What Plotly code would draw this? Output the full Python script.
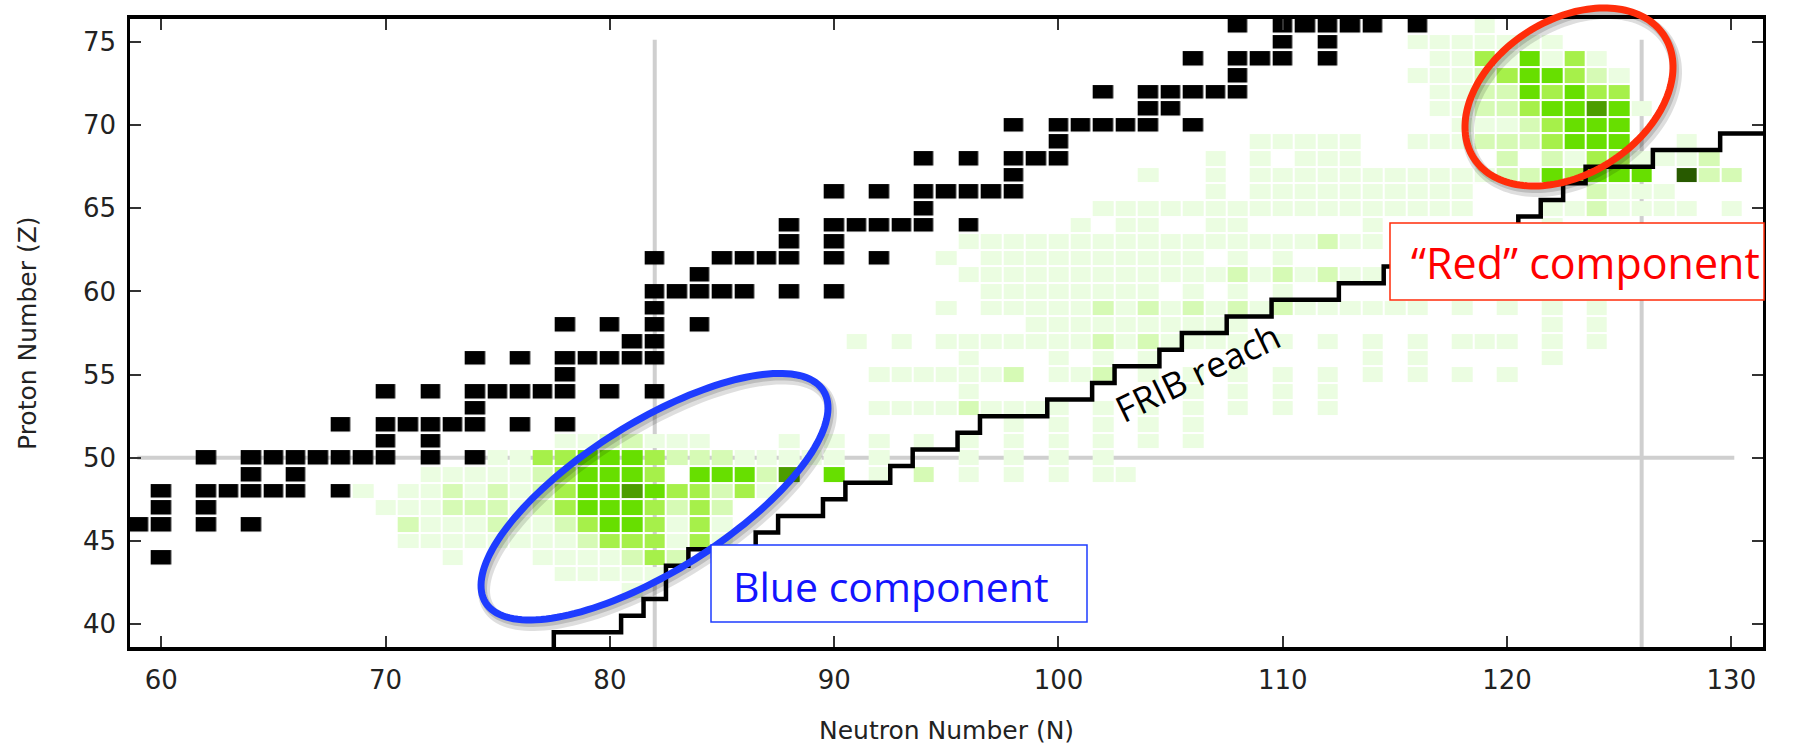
import numpy as np
import plotly.graph_objects as go

# ---------------- figure geometry ----------------
W, H = 1800, 753
ML, MR, MT, MB = 130, 37, 19, 106
PW, PH = W - ML - MR, H - MT - MB
X_RANGE = [58.605, 131.41]
Y_RANGE = [38.62, 76.383]

# ---------------- data ----------------
N_values = list(range(59, 132))
Z_values = list(range(39, 77))

# stable nuclei (black squares): Z and list of N
stable_Z = [44, 46, 47, 48, 49, 50, 51, 52, 53, 54, 55, 56, 57, 58, 59, 60, 61, 62, 63,
            64, 65, 66, 67, 68, 69, 70, 71, 72, 73, 74, 75, 76]
stable_N = [
    [60], [59, 60, 62, 64], [60, 62], [60, 62, 63, 64, 65, 66, 68], [64, 66],
    [62, 64, 65, 66, 67, 68, 69, 70, 72, 74], [70, 72], [68, 70, 71, 72, 73, 74, 76, 78],
    [74], [70, 72, 74, 75, 76, 77, 78, 80, 82], [78], [74, 76, 78, 79, 80, 81, 82],
    [81, 82], [78, 80, 82, 84], [82], [82, 83, 84, 85, 86, 88, 90], [84],
    [82, 85, 86, 87, 88, 90, 92], [88, 90], [88, 90, 91, 92, 93, 94, 96], [94],
    [90, 92, 94, 95, 96, 97, 98], [98], [94, 96, 98, 99, 100], [100],
    [98, 100, 101, 102, 103, 104, 106], [104, 105], [102, 104, 105, 106, 107, 108],
    [108], [106, 108, 109, 110, 112], [110, 112], [108, 110, 111, 112, 113, 114, 116],
]

# green intensity levels (1 = faint ... 6 = darkest); '.' = empty
green_Z = [42, 43, 44, 45, 46, 47, 48, 49, 50, 51, 52, 53, 54, 55, 56, 57, 58, 59, 60,
           61, 62, 63, 64, 65, 66, 67, 68, 69, 70, 71, 72, 73, 74, 75, 76]
green_start_N = [81, 78, 73, 71, 71, 70, 69, 72, 75, 78, 98, 92, 96, 92, 96, 91, 99, 95, 97,
                 96, 95, 96, 101, 102, 107, 104, 107, 109, 118, 117, 117, 116, 117, 116, 119]
green_levels = [
    "1",
    "11111",
    "1...1111232",
    "111111112333131",
    "211121123443131",
    "1112221234443232",
    "1.11212123445433231",
    "11111234443.44425.4.1.2.1.1.1.11",
    "1133444322211111.1...1.1.1.1",
    "1122111" "..." "1.1.1.1.1.1.1.1.1.1",
    "1.1.1.1.1",
    "1111" "2" "1111" "." "1.1.1.1.1.1",
    "1" "........." "1.1.1.1",
    "111111" "2" "." "112" "." "1.1.1.1.1.1.1.1.1",
    "1...1.1.1" "........." "1.1" "....." "1",
    "1.1.11" "11111" "212" "1111" "." "1.1.1.1." "111" "." "1.1",
    "1111111111" "............." "1.1",
    "1." "11111" "212121212" "111111" "." "1" "." "1" "." "1" "." "1",
    "11111111.1.1.1",
    "111111111111" "21212" "11",
    "1.1111111111.1.1",
    "1" "11111111111111" "1211",
    "1.11..11.....1.......1",
    "11111111111111111" "..." "1121111" "." "1",
    "1.1" "111111111" "....." "2111",
    "1..1." "11111111111" "22" "4" "3" "444" "." "6" "22",
    "1.1.111" "......" "2" "." "2" "1" "33" "111" "2",
    "11111" ".." "111" "222" "3" "444" ".." "1",
    "11123444",
    "1122344541",
    "112243433",
    "1112344321",
    "11314131",
    "1111111",
    "1",
]
level_colors = ["#ebfde1", "#d6fab5", "#a6f04a", "#67df00", "#4c9d00", "#285a00"]

# FRIB reach step boundary (hv steps)
frib_N = [77.5, 77.5, 80.5, 81.5, 82.5, 83.5, 86.5, 87.5, 89.5, 90.5, 92.5, 93.5, 95.5, 96.5,
          99.5, 101.5, 102.5, 104.5, 105.5, 107.5, 109.5, 112.5, 114.5, 116.5, 118.5, 120.5,
          121.5, 122.5, 123.5, 126.5, 129.5, 131.5]
frib_Z = [38.5, 39.5, 40.5, 41.5, 43.5, 44.5, 45.5, 46.5, 47.5, 48.5, 49.5, 50.5, 51.5, 52.5,
          53.5, 54.5, 55.5, 56.5, 57.5, 58.5, 59.5, 60.5, 61.5, 62.5, 63.5, 64.5, 65.5, 66.5,
          67.5, 68.5, 69.5, 69.5]

magic_N = [82, 126]
magic_Z = [50]
magic_N_extent = [38.62, 75.14]
magic_Z_extent = [58.93, 130.13]

x_ticks = [60, 70, 80, 90, 100, 110, 120, 130]
y_ticks = [40, 45, 50, 55, 60, 65, 70, 75]

# ---------------- build grids ----------------
green = np.full((len(Z_values), len(N_values)), np.nan)
for z, n0, lv in zip(green_Z, green_start_N, green_levels):
    for i, ch in enumerate(lv):
        if ch != ".":
            green[z - Z_values[0], n0 + i - N_values[0]] = int(ch)

black = np.full((len(Z_values), len(N_values)), np.nan)
for z, ns in zip(stable_Z, stable_N):
    for n in ns:
        black[z - Z_values[0], n - N_values[0]] = 1

nl = len(level_colors)
cscale = []
for k, c in enumerate(level_colors):
    cscale.append([k / nl, c])
    cscale.append([(k + 1) / nl, c])

fig = go.Figure()
fig.add_trace(go.Heatmap(x=N_values, y=Z_values, z=green, colorscale=cscale,
                         zmin=0.5, zmax=nl + 0.5, xgap=2, ygap=2, showscale=False,
                         hoverinfo="skip"))
fig.add_trace(go.Heatmap(x=N_values, y=Z_values, z=black,
                         colorscale=[[0, "#000000"], [1, "#000000"]],
                         xgap=2.5, ygap=2.5, showscale=False, hoverinfo="skip"))
fig.add_trace(go.Scatter(x=frib_N, y=frib_Z, mode="lines",
                         line=dict(color="black", width=4.5, shape="hv"),
                         hoverinfo="skip", showlegend=False))

shapes = []
for n in magic_N:
    shapes.append(dict(type="line", xref="x", yref="y", x0=n, x1=n,
                       y0=magic_N_extent[0], y1=magic_N_extent[1],
                       line=dict(color="#cfcfcf", width=4), layer="below"))
for z in magic_Z:
    shapes.append(dict(type="line", xref="x", yref="y", y0=z, y1=z,
                       x0=magic_Z_extent[0], x1=magic_Z_extent[1],
                       line=dict(color="#cfcfcf", width=4), layer="below"))


def px2paper(px, py):
    return (px - ML) / PW, (H - MB - py) / PH


def ellipse_path(cx, cy, a, b, theta_deg, dx=0.0, dy=0.0, n=160):
    th = np.radians(theta_deg)
    t = np.linspace(0, 2 * np.pi, n, endpoint=False)
    px = cx + dx + a * np.cos(t) * np.cos(th) - b * np.sin(t) * np.sin(th)
    py = cy + dy - (a * np.cos(t) * np.sin(th) + b * np.sin(t) * np.cos(th))
    pts = [px2paper(x, y) for x, y in zip(px, py)]
    return "M " + " L ".join(f"{x:.5f},{y:.5f}" for x, y in pts) + " Z"


ellipses = [
    dict(cx=654.5, cy=496.7, a=199.4, b=74.4, th=32.1, color="#1e3cff"),
    dict(cx=1569, cy=97, a=113.2, b=77.0, th=32.6, color="#ff2d0a"),
]
for e in ellipses:
    shapes.append(dict(type="path", xref="paper", yref="paper",
                       path=ellipse_path(e["cx"], e["cy"], e["a"], e["b"], e["th"], 3, 5),
                       line=dict(color="rgba(0,0,0,0.13)", width=12), layer="above"))
    shapes.append(dict(type="path", xref="paper", yref="paper",
                       path=ellipse_path(e["cx"], e["cy"], e["a"], e["b"], e["th"], 2, 3),
                       line=dict(color="rgba(0,0,0,0.15)", width=8), layer="above"))
    shapes.append(dict(type="path", xref="paper", yref="paper",
                       path=ellipse_path(e["cx"], e["cy"], e["a"], e["b"], e["th"]),
                       line=dict(color=e["color"], width=7), layer="above"))

boxes = [
    dict(x0=711, y0=545, x1=1087, y1=622, color="#1e3cff"),
    dict(x0=1390, y0=223, x1=1764, y1=300, color="#ff2d0a"),
]
for bx in boxes:
    x0, y0 = px2paper(bx["x0"], bx["y1"])
    x1, y1 = px2paper(bx["x1"], bx["y0"])
    shapes.append(dict(type="rect", xref="paper", yref="paper", x0=x0, y0=y0, x1=x1, y1=y1,
                       line=dict(color=bx["color"], width=1.5), fillcolor="white",
                       layer="above"))

annotations = []
bx, by = px2paper(891, 586)
annotations.append(dict(text="Blue component", x=bx, y=by, xref="paper", yref="paper",
                        showarrow=False, xanchor="center", yanchor="middle",
                        font=dict(family="Open Sans", size=41, color="#1414ff")))
rx, ry = px2paper(1585, 262)
annotations.append(dict(text="\u201cRed\u201d component", x=rx, y=ry, xref="paper", yref="paper",
                        showarrow=False, xanchor="center", yanchor="middle",
                        font=dict(family="Open Sans", size=43, color="#ff0000")))
annotations.append(dict(text="FRIB reach", x=106.2, y=55.1, xref="x", yref="y",
                        showarrow=False, textangle=-26,
                        font=dict(family="Open Sans", size=36, color="black")))
tx, ty = px2paper(946, 730)
annotations.append(dict(text="Neutron Number (N)", x=tx, y=ty, xref="paper", yref="paper",
                        showarrow=False, xanchor="center", yanchor="middle",
                        font=dict(family="DejaVu Sans", size=25, color="#222")))
yx, yy = px2paper(27, 333)
annotations.append(dict(text="Proton Number (Z)", x=yx, y=yy, xref="paper", yref="paper",
                        showarrow=False, xanchor="center", yanchor="middle", textangle=-90,
                        font=dict(family="DejaVu Sans", size=25, color="#222")))

fig.update_layout(
    width=W, height=H,
    margin=dict(l=ML, r=MR, t=MT, b=MB, pad=0),
    paper_bgcolor="white", plot_bgcolor="white",
    showlegend=False, hovermode=False,
    shapes=shapes, annotations=annotations,
    font=dict(family="DejaVu Sans", size=26, color="#222"),
)
fig.update_xaxes(range=X_RANGE, tickvals=x_ticks, ticks="inside", ticklen=11, tickwidth=1.5,
                 tickcolor="#333", showline=True, linecolor="black", linewidth=3.5,
                 mirror="ticks", showgrid=False, zeroline=False, ticklabelstandoff=7,
                 tickfont=dict(family="DejaVu Sans", size=26, color="#222"))
fig.update_yaxes(range=Y_RANGE, tickvals=y_ticks, ticks="inside", ticklen=11, tickwidth=1.5,
                 tickcolor="#333", showline=True, linecolor="black", linewidth=2.5,
                 mirror="ticks", showgrid=False, zeroline=False, ticklabelstandoff=6,
                 tickfont=dict(family="DejaVu Sans", size=26, color="#222"))

fig.write_html("out.html")
